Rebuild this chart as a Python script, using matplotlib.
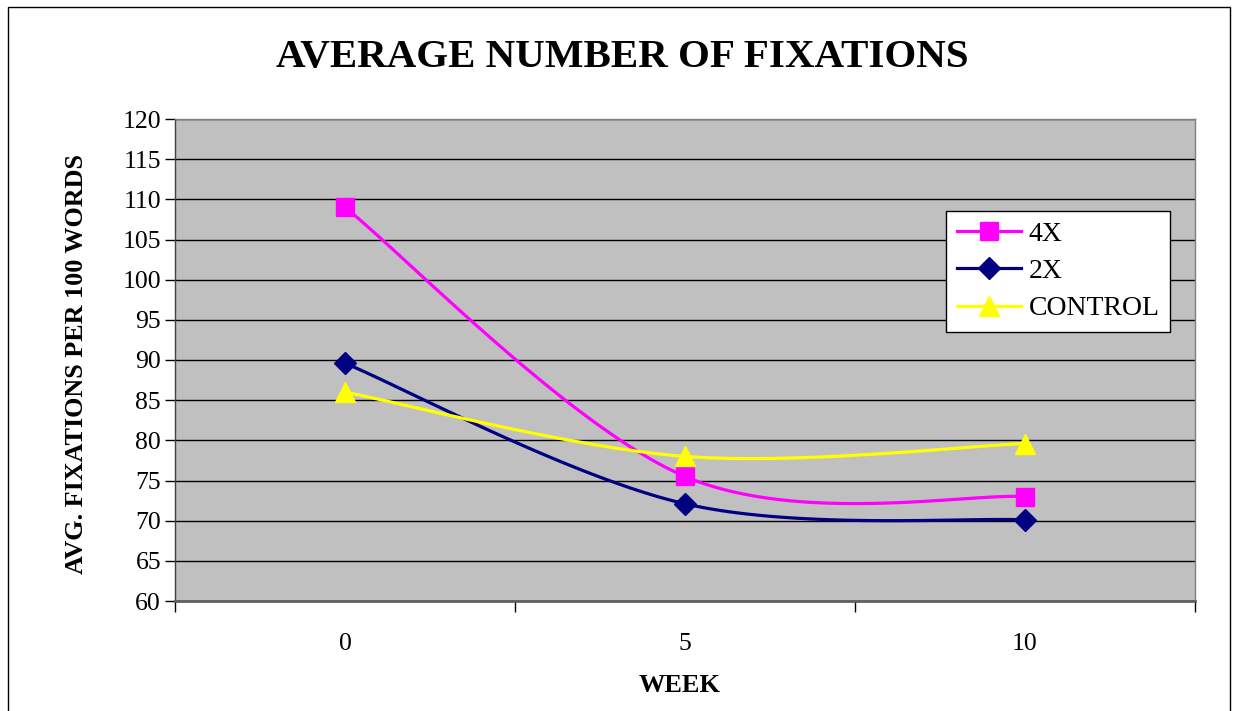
import numpy as np
import matplotlib.pyplot as plt
from matplotlib.patches import Rectangle

weeks = ["0", "5", "10"]
fix_4x = [109, 75.5, 73]
fix_2x = [89.6, 72.1, 70.1]
fix_control = [86, 78, 79.6]


def smooth(xs, ys, n=40):
    # Excel-style smoothed line: cubic Bezier with Catmull-Rom control points
    p = np.column_stack([xs, ys]).astype(float)
    ext = np.vstack([p[0], p, p[-1]])
    out = []
    t = np.linspace(0, 1, n)[:, None]
    for i in range(len(p) - 1):
        p0, p1 = ext[i + 1], ext[i + 2]
        c1 = p0 + (ext[i + 2] - ext[i]) / 6
        c2 = p1 - (ext[i + 3] - ext[i + 1]) / 6
        seg = ((1 - t) ** 3) * p0 + 3 * ((1 - t) ** 2) * t * c1 + 3 * (1 - t) * t ** 2 * c2 + t ** 3 * p1
        out.append(seg)
    out = np.vstack(out)
    return out[:, 0], out[:, 1]


plt.rcParams["font.family"] = ["Liberation Serif", "DejaVu Serif"]

fig = plt.figure(figsize=(12.35, 7.11), dpi=100)
ax = fig.add_axes([175 / 1235, 1 - 601 / 711, 1020 / 1235, 482 / 711])
ax.set_facecolor("#c0c0c0")

x = np.arange(len(weeks))
series = [
    ("4X", fix_4x, "#ff00ff", "s", 12.5),
    ("2X", fix_2x, "#000080", "D", 11),
    ("CONTROL", fix_control, "#ffff00", "^", 14),
]
for name, vals, col, mk, ms in series:
    sx, sy = smooth(x, vals)
    ax.plot(sx, sy, color=col, lw=2.3, zorder=3)
    ax.plot(x, vals, linestyle="none", marker=mk, color=col, markersize=ms, zorder=4)
    ax.plot([], [], color=col, lw=2.3, marker=mk, markersize=ms, label=name)

ax.set_xlim(-0.5, len(weeks) - 0.5)
ax.set_ylim(60, 120)
ax.set_yticks(np.arange(60, 121, 5))
ax.tick_params(axis="y", direction="out", length=7, width=1, labelsize=18.5, pad=3)
ax.set_xticks(x)
ax.set_xticklabels(weeks)
ax.tick_params(axis="x", which="major", length=0, labelsize=18.5, pad=23)
ax.set_xticks(np.arange(-0.5, len(weeks), 1), minor=True)
ax.tick_params(axis="x", which="minor", direction="out", length=8, width=1)

ax.grid(axis="y", color="black", lw=1)
ax.set_axisbelow(True)
for s in ["top", "right"]:
    ax.spines[s].set_color("#808080")
    ax.spines[s].set_linewidth(1)
ax.spines["left"].set_color("#404040")
ax.spines["left"].set_linewidth(1)
ax.spines["bottom"].set_color("#606060")
ax.spines["bottom"].set_linewidth(2)

leg = ax.legend(loc="upper left", bbox_to_anchor=(0.756, 0.809), borderaxespad=0,
                fancybox=False, framealpha=1, edgecolor="black", fontsize=20,
                handlelength=2.3, labelspacing=0.42, borderpad=0.38, handletextpad=0.3)
leg.get_frame().set_linewidth(1)

fig.text(622 / 1235, 1 - 58 / 711, "AVERAGE NUMBER OF FIXATIONS", ha="center", va="center",
         fontsize=29.5, fontweight="bold")
fig.text(77 / 1235, 1 - 364 / 711, "AVG. FIXATIONS PER 100 WORDS", ha="center", va="center",
         rotation=90, fontsize=18.8, fontweight="bold")
fig.text(680 / 1235, 1 - 686 / 711, "WEEK", ha="center", va="center",
         fontsize=19, fontweight="bold")

fig.patches.append(Rectangle((8 / 1235, -0.05), 1222 / 1235, 1 - 7 / 711 + 0.05,
                             transform=fig.transFigure, fill=False, edgecolor="black", lw=1))

fig.savefig("out.png", dpi=100)
